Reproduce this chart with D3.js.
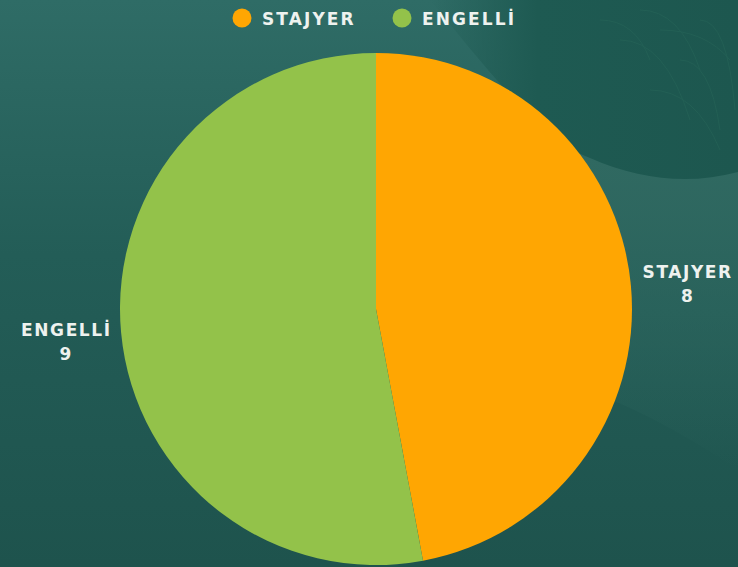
<!DOCTYPE html>
<html lang="tr">
<head>
<meta charset="utf-8">
<title>Stajyer / Engelli</title>
<style>
    body { margin: 0; background: #1e524e; }
    svg { display: block; }
    .lbl { font-family: "DejaVu Sans", "Open Sans", sans-serif; font-weight: bold; fill: #eef2ef; }
</style>
</head>
<body>
<div id="chart"></div>
<script src="https://d3js.org/d3.v7.min.js"></script>
<script>
    // data
    var categories = ["STAJYER", "ENGELLİ"];
    var values = [8, 9];
    var colors = ["#ffa602", "#93c24a"];

    var width = 738, height = 567;
    var cx = 376, cy = 309, radius = 256;

    var svg = d3.select("#chart").append("svg")
        .attr("width", width)
        .attr("height", height);

    // background: dark green, lighter at the top and on the right
    var defs = svg.append("defs");
    var bg = defs.append("linearGradient").attr("id", "bgGrad")
        .attr("x1", "0").attr("y1", "0").attr("x2", "0").attr("y2", "1");
    bg.append("stop").attr("offset", "0%").attr("stop-color", "#2f6c66");
    bg.append("stop").attr("offset", "45%").attr("stop-color", "#235d57");
    bg.append("stop").attr("offset", "100%").attr("stop-color", "#1e534d");

    var side = defs.append("linearGradient").attr("id", "sideGrad")
        .attr("x1", "0").attr("y1", "0").attr("x2", "0").attr("y2", "1");
    side.append("stop").attr("offset", "0%").attr("stop-color", "#306961");
    side.append("stop").attr("offset", "100%").attr("stop-color", "#306961").attr("stop-opacity", 0);

    var dark = defs.append("linearGradient").attr("id", "darkGrad")
        .attr("x1", "0").attr("y1", "0").attr("x2", "1").attr("y2", "0");
    dark.append("stop").attr("offset", "0%").attr("stop-color", "#1e5a52").attr("stop-opacity", 0);
    dark.append("stop").attr("offset", "35%").attr("stop-color", "#1e5a52").attr("stop-opacity", 1);
    dark.append("stop").attr("offset", "100%").attr("stop-color", "#1d574f");

    svg.append("rect").attr("width", width).attr("height", height).attr("fill", "url(#bgGrad)");
    // lighter wave on the right
    svg.append("path")
        .attr("d", "M560,150 C620,160 660,185 738,170 L738,470 C680,430 620,400 560,380 Z")
        .attr("fill", "url(#sideGrad)");
    // darker area with leaves at top right
    svg.append("path")
        .attr("d", "M430,0 C480,60 540,140 590,158 C640,180 690,185 738,172 L738,0 Z")
        .attr("fill", "url(#darkGrad)");
    var leaves = svg.append("g").attr("stroke", "#2d6e5e").attr("stroke-width", 1)
        .attr("fill", "none").attr("opacity", 0.35);
    [[640, 10, 700, 70], [660, 30, 730, 60], [680, 60, 720, 130], [620, 40, 690, 120],
     [700, 20, 735, 110], [650, 90, 720, 150], [600, 20, 650, 60]].forEach(function(l) {
        leaves.append("path").attr("d", "M" + l[0] + "," + l[1] + " Q" + ((l[0] + l[2]) / 2 + 10) + "," + l[1] + " " + l[2] + "," + l[3]);
    });

    var pie = d3.pie().sort(null).value(function(d) { return d; });
    var arcs = pie(values);

    var arc = d3.arc().innerRadius(0).outerRadius(radius);
    var labelArc = d3.arc().innerRadius(312).outerRadius(312);

    var g = svg.append("g").attr("transform", "translate(" + cx + "," + cy + ")");

    g.selectAll("path.slice")
        .data(arcs)
        .enter().append("path")
        .attr("class", "slice")
        .attr("d", arc)
        .attr("fill", function(d, i) { return colors[i]; });

    // outside labels
    var labels = g.selectAll("text.lbl")
        .data(arcs)
        .enter().append("text")
        .attr("class", "lbl")
        .attr("text-anchor", "middle")
        .attr("font-size", 17)
        .attr("letter-spacing", 1.6)
        .attr("transform", function(d) {
            var c = labelArc.centroid(d);
            return "translate(" + c[0] + "," + c[1] + ")";
        });
    labels.append("tspan").attr("x", 1).attr("y", -2)
        .text(function(d, i) { return categories[i]; });
    labels.append("tspan").attr("x", 1).attr("y", 22)
        .text(function(d) { return d.value; });

    // legend
    var legendX = [242, 402];
    var legend = svg.append("g").selectAll("g")
        .data(categories)
        .enter().append("g")
        .attr("transform", function(d, i) { return "translate(" + legendX[i] + ",18)"; });
    legend.append("circle").attr("r", 9.5)
        .attr("fill", function(d, i) { return colors[i]; });
    legend.append("text").attr("class", "lbl")
        .attr("x", 20).attr("y", 7)
        .attr("font-size", 17)
        .attr("letter-spacing", 2.1)
        .text(function(d) { return d; });
</script>
</body>
</html>
